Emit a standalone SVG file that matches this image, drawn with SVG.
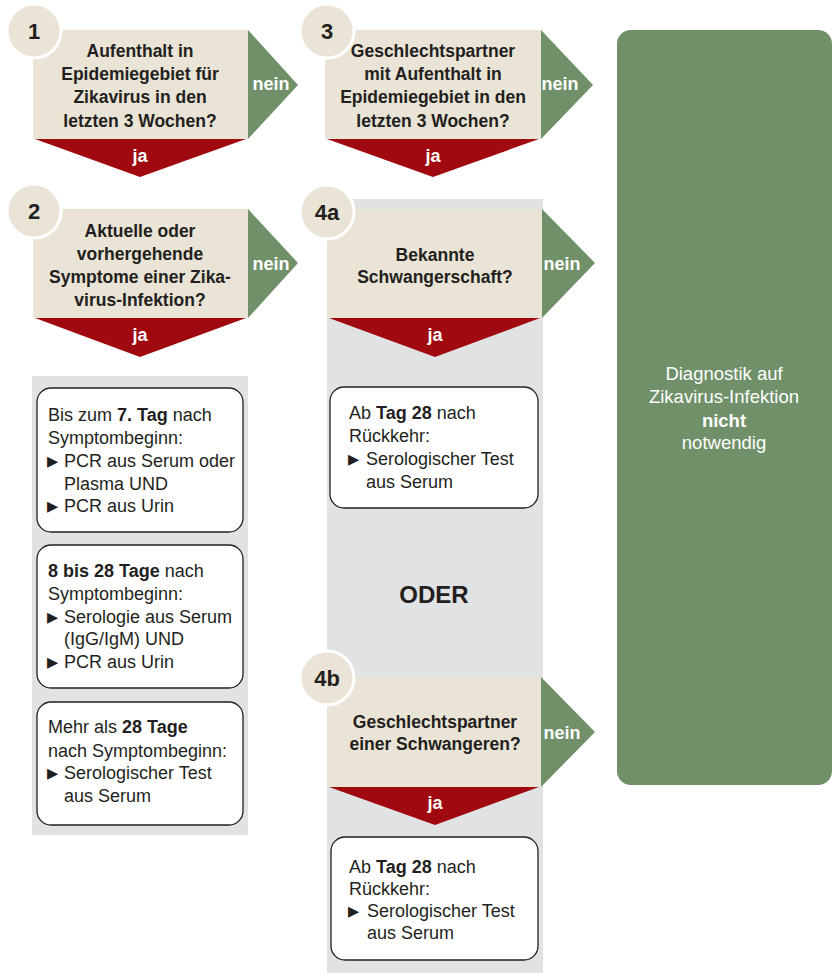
<svg xmlns="http://www.w3.org/2000/svg" width="834" height="975" viewBox="0 0 834 975">
<style>
.bg{fill:#ffffff}
.panel{fill:#e1e2e4}
.q{fill:#e9e4d6}
.num-c{fill:#e9e4d6;stroke:#ffffff;stroke-width:3}
.num{font-family:"Liberation Sans",Arial,sans-serif;font-weight:bold;font-size:22px;fill:#231f20;text-anchor:middle}
.qt{font-family:"Liberation Sans",Arial,sans-serif;font-weight:bold;font-size:17.5px;fill:#231f20;text-anchor:middle}
.no{fill:#6f9069}
.yes{fill:#a0090f}
.lbl{font-family:"Liberation Sans",Arial,sans-serif;font-weight:bold;font-size:18px;fill:#ffffff;text-anchor:middle}
.box{fill:#ffffff;stroke:#231f20;stroke-width:1.3}
.t{font-family:"Liberation Sans",Arial,sans-serif;font-size:18px;fill:#231f20}
.b{font-weight:bold}
.bul{font-family:"DejaVu Sans",sans-serif;font-size:14.5px;fill:#231f20}
.res{fill:#6f9069}
.rt{font-family:"Liberation Sans",Arial,sans-serif;font-size:18.5px;fill:#ffffff;text-anchor:middle}
.oder{font-family:"Liberation Sans",Arial,sans-serif;font-weight:bold;font-size:24px;fill:#231f20;text-anchor:middle}
</style>
<rect class="bg" x="0" y="0" width="834" height="975"/>

<g id="panels">
  <rect class="panel" x="32" y="376" width="216" height="459"/>
  <rect class="panel" x="327" y="199" width="216" height="774"/>
</g>

<g id="q1">
  <rect class="q" x="33" y="30" width="215" height="109"/>
  <text class="qt" x="140" y="57">Aufenthalt in</text>
  <text class="qt" x="140" y="80">Epidemiegebiet für</text>
  <text class="qt" x="140" y="103">Zikavirus in den</text>
  <text class="qt" x="140" y="127">letzten 3 Wochen?</text>
  <circle class="num-c" cx="34" cy="31" r="27"/>
  <text class="num" x="34" y="39">1</text>
</g>

<g id="q3">
  <rect class="q" x="325" y="30" width="216" height="109"/>
  <text class="qt" x="433" y="57">Geschlechtspartner</text>
  <text class="qt" x="433" y="80">mit Aufenthalt in</text>
  <text class="qt" x="433" y="103">Epidemiegebiet in den</text>
  <text class="qt" x="433" y="127">letzten 3 Wochen?</text>
  <circle class="num-c" cx="327" cy="31" r="27"/>
  <text class="num" x="327" y="39">3</text>
</g>

<g id="q2">
  <rect class="q" x="33" y="209" width="215" height="109"/>
  <text class="qt" x="140" y="237">Aktuelle oder</text>
  <text class="qt" x="140" y="260">vorhergehende</text>
  <text class="qt" x="140" y="283">Symptome einer Zika-</text>
  <text class="qt" x="140" y="306">virus-Infektion?</text>
  <circle class="num-c" cx="34" cy="211" r="27"/>
  <text class="num" x="34" y="219">2</text>
</g>

<g id="q4a">
  <rect class="q" x="327" y="209" width="215" height="109"/>
  <text class="qt" x="435" y="261">Bekannte</text>
  <text class="qt" x="435" y="283">Schwangerschaft?</text>
  <circle class="num-c" cx="327" cy="212" r="27"/>
  <text class="num" x="327" y="220">4a</text>
</g>

<g id="q4b">
  <rect class="q" x="327" y="677" width="214" height="110"/>
  <text class="qt" x="435" y="728">Geschlechtspartner</text>
  <text class="qt" x="435" y="750">einer Schwangeren?</text>
  <circle class="num-c" cx="327" cy="678" r="27"/>
  <text class="num" x="327" y="686">4b</text>
</g>

<g id="r2a">
  <rect class="box" x="37" y="388" width="206" height="144" rx="14"/>
  <text class="t" x="48" y="421">Bis zum <tspan class="b">7. Tag</tspan> nach</text>
  <text class="t" x="48" y="444">Symptombeginn:</text>
  <text class="bul" x="47" y="466">▶</text>
  <text class="t" x="64" y="467">PCR aus Serum oder</text>
  <text class="t" x="64" y="490">Plasma UND</text>
  <text class="bul" x="47" y="511">▶</text>
  <text class="t" x="64" y="512">PCR aus Urin</text>
</g>

<g id="r2b">
  <rect class="box" x="37" y="545" width="206" height="143" rx="14"/>
  <text class="t" x="48" y="577"><tspan class="b">8 bis 28 Tage</tspan> nach</text>
  <text class="t" x="48" y="600">Symptombeginn:</text>
  <text class="bul" x="47" y="622">▶</text>
  <text class="t" x="64" y="623">Serologie aus Serum</text>
  <text class="t" x="64" y="645">(IgG/IgM) UND</text>
  <text class="bul" x="47" y="667">▶</text>
  <text class="t" x="64" y="668">PCR aus Urin</text>
</g>

<g id="r2c">
  <rect class="box" x="37" y="702" width="206" height="123" rx="14"/>
  <text class="t" x="48" y="733">Mehr als <tspan class="b">28 Tage</tspan></text>
  <text class="t" x="48" y="757">nach Symptombeginn:</text>
  <text class="bul" x="47" y="778">▶</text>
  <text class="t" x="64" y="779">Serologischer Test</text>
  <text class="t" x="64" y="802">aus Serum</text>
</g>

<g id="r4a">
  <rect class="box" x="330" y="387" width="208" height="121" rx="14"/>
  <text class="t" x="349" y="419">Ab <tspan class="b">Tag 28</tspan> nach</text>
  <text class="t" x="349" y="442">Rückkehr:</text>
  <text class="bul" x="348" y="464">▶</text>
  <text class="t" x="366" y="465">Serologischer Test</text>
  <text class="t" x="366" y="488">aus Serum</text>
</g>

<g id="oder">
  <text class="oder" x="434" y="603">ODER</text>
</g>

<g id="r4b">
  <rect class="box" x="331" y="837" width="207" height="123" rx="14"/>
  <text class="t" x="349" y="873">Ab <tspan class="b">Tag 28</tspan> nach</text>
  <text class="t" x="349" y="895">Rückkehr:</text>
  <text class="bul" x="348" y="916">▶</text>
  <text class="t" x="367" y="917">Serologischer Test</text>
  <text class="t" x="367" y="939">aus Serum</text>
</g>

<g id="result-no">
  <rect class="res" x="617" y="30" width="215" height="755" rx="14"/>
  <text class="rt" x="724" y="380">Diagnostik auf</text>
  <text class="rt" x="724" y="403">Zikavirus-Infektion</text>
  <text class="rt" x="724" y="427" font-weight="bold">nicht</text>
  <text class="rt" x="724" y="449">notwendig</text>
</g>

<g id="connectors">
  <polygon class="no" points="248,30 298,85 248,139"/>
  <text class="lbl" x="271" y="90">nein</text>
  <polygon class="yes" points="35,139 246,139 140,177"/>
  <text class="lbl" x="140" y="162">ja</text>

  <polygon class="no" points="541,30 593,85 541,139"/>
  <text class="lbl" x="560" y="90">nein</text>
  <polygon class="yes" points="327,139 539,139 433,177"/>
  <text class="lbl" x="433" y="162">ja</text>

  <polygon class="no" points="248,209 298,263 248,318"/>
  <text class="lbl" x="271" y="270">nein</text>
  <polygon class="yes" points="35,318 246,318 140,357"/>
  <text class="lbl" x="140" y="341">ja</text>

  <polygon class="no" points="542,209 595,263 542,318"/>
  <text class="lbl" x="562" y="270">nein</text>
  <polygon class="yes" points="329,318 540,318 435,357"/>
  <text class="lbl" x="435" y="341">ja</text>

  <polygon class="no" points="541,677 595,732 541,787"/>
  <text class="lbl" x="562" y="739">nein</text>
  <polygon class="yes" points="329,787 539,787 435,825"/>
  <text class="lbl" x="435" y="809">ja</text>
</g>
</svg>
